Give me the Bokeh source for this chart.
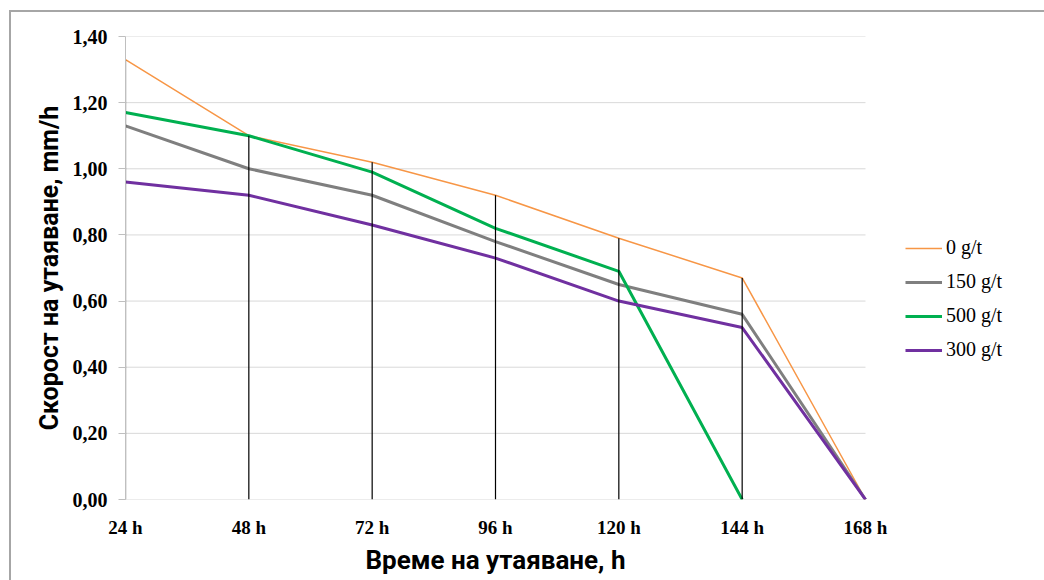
import numpy as np
from bokeh.plotting import figure
from bokeh.models import (Range1d, FixedTicker, CustomJSTickFormatter, Legend,
                          LegendItem, Title)
from bokeh.embed import file_html
from bokeh.resources import INLINE

# Thawing time (h) and tick labels
hours = [24, 48, 72, 96, 120, 144, 168]
hour_labels = ["24 h", "48 h", "72 h", "96 h", "120 h", "144 h", "168 h"]

# Thawing rate, mm/h, per dosage (NaN = no value recorded)
rate_0 = [1.33, 1.10, 1.02, 0.92, 0.79, 0.67, 0.00]
rate_150 = [1.13, 1.00, 0.92, 0.78, 0.65, 0.56, 0.00]
rate_500 = [1.17, 1.10, 0.99, 0.82, 0.69, 0.00, np.nan]
rate_300 = [0.96, 0.92, 0.83, 0.73, 0.60, 0.52, 0.00]

series_names = ["0 g/t", "150 g/t", "500 g/t", "300 g/t"]
series_colors = ["#F79646", "#7F7F7F", "#00B050", "#7030A0"]
series_widths = [1.5, 3, 3, 3]

y_ticks = [0.0, 0.2, 0.4, 0.6, 0.8, 1.0, 1.2, 1.4]

# The plotting area spans the time axis (740 px) plus room on the right
# for the legend; the time range is stretched accordingly.
axis_px = 740
frame_px = 908
x_end = hours[0] + (hours[-1] - hours[0]) * frame_px / axis_px

p = figure(frame_width=frame_px, frame_height=463,
           output_backend="svg", toolbar_location=None,
           x_range=Range1d(hours[0], x_end), y_range=Range1d(0, 1.4),
           min_border_left=114, min_border_right=11,
           min_border_top=24, min_border_bottom=81,
           margin=(12, 0, 0, 11),
           styles={"outline": "2px solid #a6a6a6"})
p.outline_line_color = None
p.background_fill_color = "white"
p.border_fill_color = "white"

# horizontal gridlines, limited to the time axis
p.xgrid.grid_line_color = None
p.ygrid.grid_line_color = None
p.segment(x0=[hours[0]] * len(y_ticks), x1=[hours[-1]] * len(y_ticks),
          y0=y_ticks, y1=y_ticks, line_color="#D9D9D9", line_width=1)

p.yaxis.ticker = FixedTicker(ticks=y_ticks)
p.xaxis.ticker = FixedTicker(ticks=hours)
p.xaxis.major_label_overrides = {h: lbl for h, lbl in zip(hours, hour_labels)}
p.yaxis.formatter = CustomJSTickFormatter(
    code="return tick.toFixed(2).replace('.', ',');")

# axes styling
for ax in (p.xaxis, p.yaxis):
    ax.major_label_text_font = "Liberation Serif"
    ax.major_label_text_font_style = "bold"
    ax.major_label_text_color = "#000000"
    ax.minor_tick_line_color = None
    ax.axis_label_text_font = "Roboto"
    ax.axis_label_text_font_style = "bold"
    ax.axis_label_text_color = "#000000"

p.xaxis.axis_line_color = None
p.xaxis.major_tick_line_color = None
p.xaxis.major_label_text_font_size = "19px"
p.xaxis.major_label_standoff = 11

p.yaxis.axis_line_color = "#BFBFBF"
p.yaxis.major_tick_line_color = "#BFBFBF"
p.yaxis.major_tick_out = 7
p.yaxis.major_tick_in = 0
p.yaxis.major_label_text_font_size = "20px"
p.yaxis.major_label_standoff = 11
p.yaxis.axis_label = "Скорост на утаяване, mm/h"
p.yaxis.axis_label_text_font_size = "25px"
p.yaxis.axis_label_standoff = 6

# x-axis title, centred under the time axis
x_title = Title(text="Време на утаяване, h", align="left", offset=240,
                text_font="Roboto", text_font_style="bold",
                text_font_size="26px", text_color="#000000", standoff=4)
p.add_layout(x_title, "below")

# series lines
all_series = [rate_0, rate_150, rate_500, rate_300]
items = []
for vals, name, col, w in zip(all_series, series_names, series_colors, series_widths):
    r = p.line(hours, vals, line_color=col, line_width=w)
    items.append(LegendItem(label=name, renderers=[r]))

# drop lines from the highest value at each time down to the axis
tops = np.nanmax(np.array(all_series), axis=0)
p.segment(x0=hours, y0=[0] * len(hours), x1=hours, y1=tops,
          line_color="#000000", line_width=1.2)

legend = Legend(items=items, location=(780, 138), orientation="vertical",
                border_line_color=None, background_fill_alpha=0,
                padding=0, margin=0, spacing=11,
                glyph_width=37, glyph_height=22, label_height=22,
                label_standoff=4,
                label_text_font="Liberation Serif", label_text_font_size="20px",
                label_text_color="#000000")
p.add_layout(legend, "center")

open("out.html", "w").write(file_html(p, INLINE))
